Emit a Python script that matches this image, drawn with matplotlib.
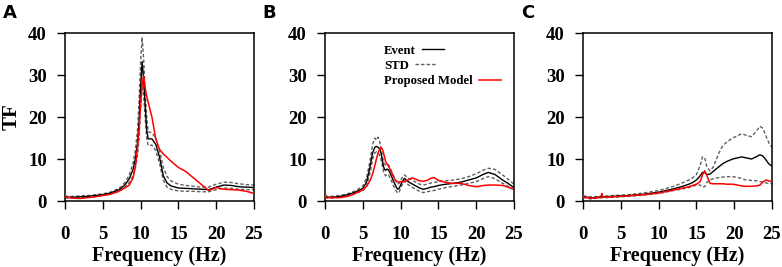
import matplotlib
matplotlib.use("Agg")
import matplotlib.pyplot as plt

# ---------------- data ----------------
# Panel A
fA = [0, 0.1, 1, 2, 3, 4, 5, 6, 7, 7.5, 8, 8.5, 9, 9.3, 9.6, 9.8, 10.0, 10.2, 10.4, 10.6,
      10.8, 11, 11.5, 12, 12.5, 13, 13.5, 14, 15, 16, 17, 18, 19, 20, 21, 22, 23, 24, 25]
eventA = [1.0, 0.9, 0.9, 1.0, 1.1, 1.3, 1.5, 1.9, 2.6, 3.1, 4.0, 5.3, 7.5, 10, 14, 19, 27, 33.2, 29, 23,
          17, 14.8, 14.8, 13.5, 10.5, 6.0, 4.3, 3.6, 3.1, 3.0, 2.9, 2.8, 2.7, 3.3, 3.8, 3.7, 3.4, 3.3, 3.2]
stdUpA = [1.2, 1.1, 1.1, 1.2, 1.3, 1.5, 1.7, 2.1, 2.9, 3.5, 4.6, 6.2, 9, 12, 17, 24, 33, 39, 34, 26,
          20, 16.5, 16.2, 15, 12, 8, 5.8, 4.8, 4.0, 3.7, 3.5, 3.3, 3.3, 4.0, 4.5, 4.4, 4.1, 3.9, 3.8]
stdLoA = [0.8, 0.7, 0.7, 0.8, 0.9, 1.1, 1.3, 1.7, 2.3, 2.7, 3.4, 4.4, 6.0, 8, 11, 15, 22, 28, 25, 20,
          15, 13.2, 13.3, 12, 9, 5, 3.3, 2.8, 2.4, 2.3, 2.3, 2.2, 2.2, 2.7, 3.1, 3.0, 2.8, 2.7, 2.7]
modelA = [2.0, 0.9, 0.7, 0.6, 0.8, 1.0, 1.3, 1.6, 2.2, 2.7, 3.2, 3.8, 5.5, 8, 13, 17, 23, 28, 29.8, 27,
          25, 23.5, 20, 14.8, 12.3, 11.2, 10.4, 9.5, 8.0, 7.0, 5.5, 4.0, 2.5, 3.2, 2.8, 2.7, 2.6, 2.3, 1.8]

# Panel B
fB = [0, 0.1, 1, 2, 3, 4, 5, 5.5, 6, 6.3, 6.6, 6.8, 7.0, 7.2, 7.4, 7.6, 7.8, 8.0, 8.2, 8.4, 8.7,
      9.0, 9.3, 9.6, 9.8, 10.1, 10.5, 11, 11.5, 12, 12.5, 13, 13.5, 14, 14.4, 15, 16, 17, 18, 19,
      20, 21, 21.6, 22.5, 23.5, 24.2, 25]
eventB = [1.0, 0.9, 0.9, 1.1, 1.5, 2.1, 3.0, 4.5, 8.5, 11.5, 12.8, 13.0, 12.8, 12.5, 11.5, 9.5, 7.8,
          7.3, 7.6, 7.4, 6.3, 5.0, 3.8, 2.8, 3.0, 4.2, 5.4, 4.6, 4.1, 3.6, 3.1, 2.8, 3.0, 3.3, 3.4,
          3.7, 4.0, 4.2, 4.5, 5.0, 5.5, 6.4, 6.8, 6.3, 5.0, 4.2, 3.2]
stdUpB = [1.2, 1.1, 1.1, 1.3, 1.7, 2.4, 3.5, 5.5, 10, 13.5, 15.0, 14.5, 15.2, 14.5, 12.5, 10.5, 9.0,
          8.6, 8.8, 8.6, 7.5, 6.3, 5.0, 4.0, 4.2, 5.3, 6.2, 5.5, 5.0, 4.5, 4.0, 3.8, 4.0, 4.3, 4.4,
          4.6, 4.8, 5.0, 5.3, 5.8, 6.5, 7.4, 7.8, 7.5, 6.2, 5.2, 4.0]
stdLoB = [0.8, 0.7, 0.7, 0.9, 1.3, 1.8, 2.5, 3.5, 7, 10, 11.5, 11.7, 11.5, 11.0, 10.0, 8.2, 6.6,
          6.0, 6.4, 6.2, 5.2, 3.8, 2.7, 1.9, 2.1, 3.5, 4.8, 3.9, 3.3, 2.8, 2.3, 2.0, 2.2, 2.4, 2.5,
          2.8, 3.2, 3.5, 3.8, 4.2, 4.6, 5.4, 5.8, 5.3, 4.2, 3.5, 2.8]
modelB = [3.0, 0.8, 0.8, 0.8, 1.1, 1.8, 2.6, 3.5, 5.0, 6.5, 8.5, 10.0, 11.3, 12.3, 12.8, 12.3, 11.0,
          9.5, 8.8, 8.3, 7.2, 6.0, 5.0, 4.6, 4.5, 4.6, 4.6, 5.0, 5.5, 5.2, 4.8, 4.7, 4.9, 5.4, 5.6,
          4.9, 4.4, 4.2, 4.2, 3.7, 3.4, 3.7, 3.8, 3.8, 3.7, 3.3, 2.8]

# Panel C
fC = [0, 0.1, 0.5, 1, 1.5, 2, 2.4, 2.5, 2.6, 3, 4, 6, 8, 10, 12, 13, 14, 14.5, 15, 15.5, 15.8,
      16.1, 16.4, 16.8, 17.2, 18, 18.5, 19, 19.8, 21, 21.5, 22.3, 23, 23.4, 23.8, 24.2, 24.6, 25]
eventC = [1.0, 1.0, 0.9, 0.7, 0.8, 0.9, 1.0, 1.0, 1.0, 1.0, 1.1, 1.3, 1.6, 2.1, 2.9, 3.4, 4.0, 4.4,
          5.0, 6.0, 6.8, 6.8, 6.3, 6.4, 7.0, 8.2, 8.9, 9.4, 10.0, 10.5, 10.3, 10.0, 10.6, 11.0,
          10.7, 9.8, 8.8, 8.3]
stdUpC = [1.2, 1.2, 1.1, 1.0, 1.0, 1.1, 1.2, 1.2, 1.2, 1.2, 1.3, 1.5, 1.9, 2.5, 3.5, 4.2, 5.0, 5.5,
          6.3, 8.5, 10.5, 10.3, 8.0, 7.2, 8.0, 11.5, 13.2, 14.0, 15.0, 16.0, 15.7, 15.3, 16.8, 17.8,
          17.3, 15.5, 13.8, 12.8]
stdLoC = [0.8, 0.8, 0.7, 0.5, 0.6, 0.7, 0.8, 0.8, 0.8, 0.8, 0.9, 1.1, 1.4, 1.8, 2.5, 2.8, 3.2, 3.5,
          3.8, 3.8, 3.3, 3.4, 4.5, 5.0, 5.3, 5.6, 5.7, 5.8, 5.8, 5.4, 5.0, 4.9, 4.8, 4.6, 4.5, 4.3,
          4.2, 4.1]
modelC = [1.6, 0.9, 0.8, 0.7, 0.7, 0.8, 0.8, 1.8, 1.0, 0.9, 1.0, 1.2, 1.5, 1.9, 2.6, 3.0, 3.4, 3.7,
          4.0, 4.6, 6.2, 7.2, 6.0, 4.2, 4.1, 4.1, 4.1, 4.0, 4.0, 3.6, 3.5, 3.5, 3.6, 3.8, 4.5, 5.0,
          4.8, 4.6]

panels = [
    ("A", fA, eventA, stdUpA, stdLoA, modelA),
    ("B", fB, eventB, stdUpB, stdLoB, modelB),
    ("C", fC, eventC, stdUpC, stdLoC, modelC),
]
xticks = [0, 5, 10, 15, 20, 25]
yticks = [0, 10, 20, 30, 40]
legend_labels = ["Event", "STD", "Proposed Model"]

# ---------------- figure ----------------
W, H = 782, 267
fig = plt.figure(figsize=(W / 100, H / 100), dpi=100)
serif = "Liberation Serif"
lefts_px = [65, 325, 583]
letter_px = [3, 262, 521]
ax_w = 189 / W
ax_b = 1 - 201 / H
ax_h = 168 / H

for i, (letter, f, ev, up, lo, mo) in enumerate(panels):
    ax = fig.add_axes([lefts_px[i] / W, ax_b, ax_w, ax_h])
    l_ev, = ax.plot(f, ev, color="black", lw=1.0, zorder=3)
    l_std, = ax.plot(f, up, color="#606060", lw=1.0, ls=(0, (2.5, 1.5)), zorder=2)
    ax.plot(f, lo, color="#606060", lw=1.0, ls=(0, (2.5, 1.5)), zorder=2)
    l_mo, = ax.plot(f, mo, color="#ff0000", lw=1.1, zorder=4)
    ax.set_xlim(0, 25)
    ax.set_ylim(0, 40)
    ax.set_xticks(xticks)
    ax.set_yticks(yticks)
    ax.tick_params(axis="both", direction="out", length=6, width=1.0)
    ax.tick_params(axis="x", pad=12)
    ax.tick_params(axis="y", pad=7)
    for lab in ax.get_xticklabels() + ax.get_yticklabels():
        lab.set_fontfamily(serif)
        lab.set_fontweight("bold")
        lab.set_fontsize(13.5)
    for s in ax.spines.values():
        s.set_linewidth(1.1)
    ax.set_xlabel("Frequency (Hz)", fontfamily=serif, fontweight="bold", fontsize=14.5, labelpad=2)
    if i == 0:
        ax.set_ylabel("TF", fontfamily=serif, fontweight="bold", fontsize=15, labelpad=5)
    fig.text(letter_px[i] / W, 1 - 4 / H, letter, fontfamily="DejaVu Sans", fontweight="bold",
             fontsize=13, ha="left", va="top")
    if i == 1:
        leg = ax.legend([l_ev, l_std, l_mo], legend_labels, loc="upper left",
                        bbox_to_anchor=(0.312, 0.93), frameon=False, markerfirst=False,
                        borderpad=0, borderaxespad=0, handlelength=1.7, handletextpad=0.5,
                        labelspacing=0.25, prop={"family": serif, "weight": "bold", "size": 9.2})
        # left-align the text column (handles follow each label)
        for col in leg._legend_handle_box.get_children():
            col.align = "left"

fig.savefig("out.png", dpi=100)
